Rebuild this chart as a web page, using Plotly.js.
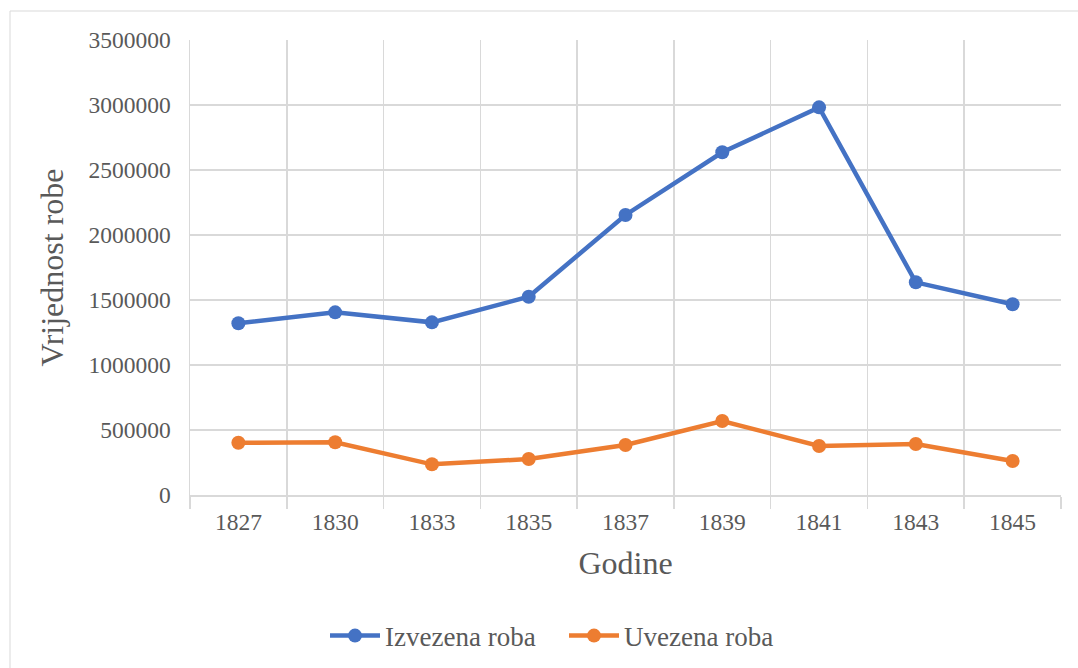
<!DOCTYPE html>
<html>
<head>
<meta charset="utf-8">
<script src="https://cdn.plot.ly/plotly-3.0.1.min.js"></script>
<style>
html,body{margin:0;padding:0;background:#fff;}
#chart{width:1078px;height:668px;}
</style>
</head>
<body>
<div id="chart"></div>
<script>
const years = ["1827","1830","1833","1835","1837","1839","1841","1843","1845"];
const izvezena = [1321000,1405000,1328000,1525000,2154000,2636000,2982000,1636000,1467000];
const uvezena = [402000,406000,236000,277000,385000,569000,377000,392000,262000];
const seriesNames = ["Izvezena roba","Uvezena roba"];

const font = "'Liberation Serif', 'Times New Roman', serif";
const traces = [
  {x: years, y: izvezena, name: seriesNames[0], type: "scatter", mode: "lines+markers",
   line: {color: "#4472C4", width: 4.5}, marker: {color: "#4472C4", size: 14}},
  {x: years, y: uvezena, name: seriesNames[1], type: "scatter", mode: "lines+markers",
   line: {color: "#ED7D31", width: 4.5}, marker: {color: "#ED7D31", size: 14}}
];
const layout = {
  width: 1078, height: 668,
  margin: {l: 190, r: 17, t: 40, b: 173, autoexpand: false},
  paper_bgcolor: "#fff", plot_bgcolor: "#fff",
  font: {family: font, color: "#595959", size: 23},
  showlegend: true,
  legend: {orientation: "h", x: (325-190)/871, xanchor: "left", y: -0.31, yanchor: "middle",
           entrywidth: 174, entrywidthmode: "pixels",
           font: {family: font, size: 27, color: "#595959"}, itemwidth: 50, tracegroupgap: 0},
  xaxis: {
    type: "category", range: [-0.5, 8.5], tickson: "boundaries",
    showgrid: true, gridcolor: "#d9d9d9", gridwidth: 1.5,
    ticks: "outside", ticklen: 12, tickcolor: "#d9d9d9", tickwidth: 1.5,
    ticklabelstandoff: 5,
    showline: true, linecolor: "#d9d9d9", linewidth: 1.5,
    tickfont: {family: font, size: 23.5, color: "#595959"},
    title: {text: "Godine", font: {family: font, size: 32, color: "#595959"}, standoff: 18}
  },
  yaxis: {
    range: [0, 3500000], dtick: 500000, tickformat: "d",
    showgrid: true, gridcolor: "#d9d9d9", gridwidth: 1.5,
    zeroline: true, zerolinecolor: "#d9d9d9", zerolinewidth: 1.5,
    showline: true, linecolor: "#d9d9d9", linewidth: 1.5,
    ticks: "", ticklen: 0, ticklabelstandoff: 13,
    tickfont: {family: font, size: 23.5, color: "#595959"},
    title: {text: "Vrijednost robe", font: {family: font, size: 32, color: "#595959"}, standoff: 15}
  },
  shapes: [{
    type: "rect", xref: "paper", yref: "paper",
    x0: (10-190)/871, x1: (1100-190)/871, y0: (495-690)/455, y1: (495-11)/455,
    line: {color: "#d9d9d9", width: 1}, fillcolor: "rgba(0,0,0,0)", layer: "below"
  }]
};
Plotly.newPlot("chart", traces, layout, {displayModeBar: false, staticPlot: true});
</script>
</body>
</html>
